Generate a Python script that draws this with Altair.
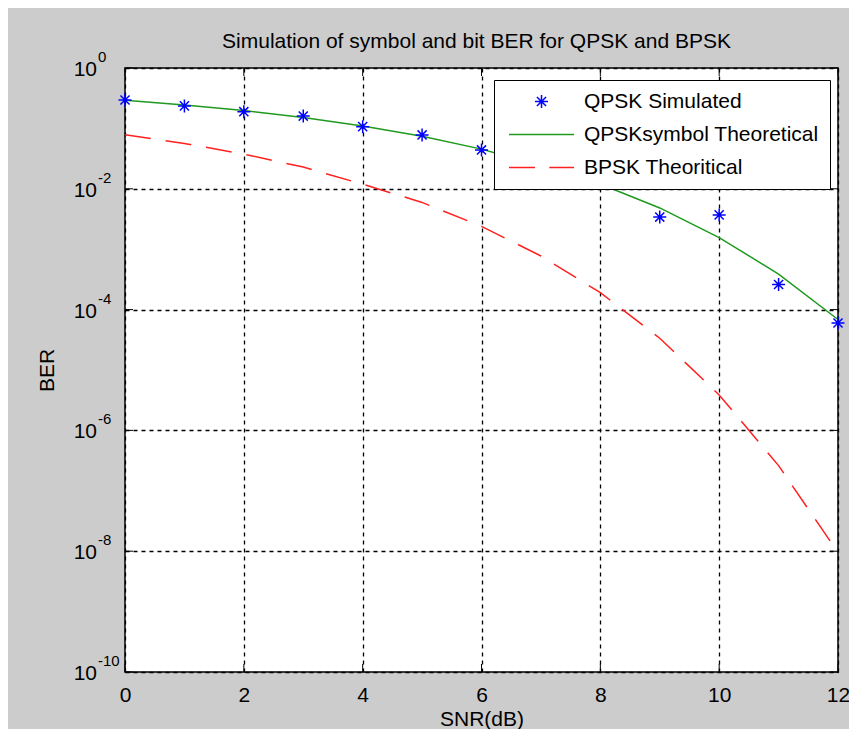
import altair as alt
import pandas as pd

FONT = "Liberation Sans"

# ---- data ----
snr = [0, 1, 2, 3, 4, 5, 6, 7, 8, 9, 10, 11, 12]
qpsk_sim = [0.295, 0.236, 0.189, 0.160, 0.107, 0.078, 0.044, 0.024, 0.0135, 0.0034, 0.0037, 0.00026, 0.00006]
qpsk_theory = [0.292, 0.245, 0.197, 0.152, 0.110, 0.0739, 0.0454, 0.0240, 0.0120, 0.00482,
               0.00156, 0.000388, 0.0000686]
bpsk_theory = [0.0786, 0.0563, 0.0375, 0.0229, 0.0119, 0.00595, 0.00239, 0.000772, 0.000191,
               0.0000336, 0.00000387, 0.000000261, 0.0000000095]

series_names = ["QPSK Simulated", "QPSKsymbol Theoretical", "BPSK Theoritical"]
series_colors = ["#0000ff", "#1f9a1f", "#ff2020"]
x_ticks = [0, 2, 4, 6, 8, 10, 12]
y_exponents = [0, -2, -4, -6, -8, -10]

chart_title = "Simulation of symbol and bit BER for QPSK and BPSK"
x_title = "SNR(dB)"
y_title = "BER"

# marker / legend symbol paths (unit square)
star_path = "M0,-1L0,1M-1,0L1,0M-0.7,-0.7L0.7,0.7M-0.7,0.7L0.7,-0.7"
line_path = "M-5,0L5,0"
dash_path = "M-5,0L-1,0M1.2,0L5,0"

W, H = 713, 604

sim_df = pd.DataFrame({"snr": snr, "ber": qpsk_sim, "series": series_names[0]})
qpsk_df = pd.DataFrame({"snr": snr, "ber": qpsk_theory})
bpsk_df = pd.DataFrame({"snr": snr, "ber": bpsk_theory})
ytick_df = pd.DataFrame({"ber": [10.0 ** e for e in y_exponents], "exp": [str(e) for e in y_exponents]})
xtick_df = pd.DataFrame({"snr": x_ticks})

x_scale = alt.Scale(domain=[0, 12], nice=False, zero=False)
y_scale = alt.Scale(type="log", domain=[1e-10, 1], nice=False)

x_axis = alt.Axis(
    values=x_ticks, title=x_title, grid=True, gridDash=[4, 4], gridColor="black",
    gridOpacity=1, gridWidth=1.3, ticks=False, tickSize=0, domain=False,
    labelFont=FONT, labelFontSize=21, labelColor="black", labelBaseline="alphabetic",
    labelPadding=29, labelFlush=False, labelOverlap=False,
    titleFont=FONT, titleFontSize=21, titleFontWeight="normal", titleColor="black",
    titleBaseline="alphabetic", titleX=W / 2, titleY=53,
)
y_axis = alt.Axis(
    values=[10.0 ** e for e in y_exponents], title=y_title, grid=True, gridDash=[4, 4],
    gridColor="black", gridOpacity=1, gridWidth=1.3, ticks=False, tickSize=0,
    domain=False, labels=False,
    titleFont=FONT, titleFontSize=21, titleFontWeight="normal", titleColor="black",
    titleBaseline="alphabetic", titleAngle=270, titleAlign="center",
    titleX=-72, titleY=H / 2,
)

x_enc = alt.X("snr:Q", scale=x_scale, axis=x_axis)
y_enc = alt.Y("ber:Q", scale=y_scale, axis=y_axis)

legend = alt.Legend(
    title=None, orient="none", legendX=369, legendY=12,
    fillColor="white", strokeColor="black", padding=11, rowPadding=11,
    symbolSize=169, symbolStrokeWidth=1.5, symbolOffset=26, labelOffset=32,
    labelFont=FONT, labelFontSize=21, labelColor="black", labelLimit=400,
)

green_line = alt.Chart(qpsk_df).mark_line(color=series_colors[1], strokeWidth=1.5).encode(x=x_enc, y=y_enc)
red_line = alt.Chart(bpsk_df).mark_line(color=series_colors[2], strokeWidth=1.5, strokeDash=[26, 15]).encode(x=x_enc, y=y_enc)

points = alt.Chart(sim_df).mark_point(filled=False, size=169, strokeWidth=1.5, opacity=1).encode(
    x=x_enc, y=y_enc,
    color=alt.Color("series:N", scale=alt.Scale(domain=series_names, range=series_colors), legend=legend),
    shape=alt.Shape("series:N", scale=alt.Scale(domain=series_names, range=[star_path, line_path, dash_path]), legend=legend),
)

tick_left = alt.Chart(ytick_df).mark_rule(color="black", strokeWidth=1).encode(y=y_enc, x=alt.value(0), x2=alt.value(8))
tick_right = alt.Chart(ytick_df).mark_rule(color="black", strokeWidth=1).encode(y=y_enc, x=alt.value(W - 8), x2=alt.value(W))
tick_bottom = alt.Chart(xtick_df).mark_rule(color="black", strokeWidth=1).encode(x=x_enc, y=alt.value(H - 8), y2=alt.value(H))
tick_top = alt.Chart(xtick_df).mark_rule(color="black", strokeWidth=1).encode(x=x_enc, y=alt.value(0), y2=alt.value(8))

lab_base = alt.Chart(ytick_df).mark_text(
    align="right", baseline="alphabetic", dy=8, font=FONT, fontSize=21, color="black"
).encode(y=y_enc, x=alt.value(-28), text=alt.value("10"))
lab_exp = alt.Chart(ytick_df).mark_text(
    align="left", baseline="alphabetic", dy=-6, font=FONT, fontSize=15, color="black"
).encode(y=y_enc, x=alt.value(-27), text="exp:N")

chart = alt.layer(
    green_line, red_line, points, tick_left, tick_right, tick_bottom, tick_top, lab_base, lab_exp
).properties(
    width=W, height=H,
    title=alt.Title(chart_title, font=FONT, fontSize=21, fontWeight="normal", color="black",
                    anchor="middle", frame="group", baseline="alphabetic", offset=20, dx=-5, dy=39),
    background="#cccccc",
    padding={"left": 117, "top": 60, "right": 11, "bottom": 57},
    autosize=alt.AutoSizeParams(type="none"),
).configure_view(stroke="black", strokeWidth=1.5, fill="white")

chart.save("out.html", embed_options={"renderer": "svg", "actions": False})
